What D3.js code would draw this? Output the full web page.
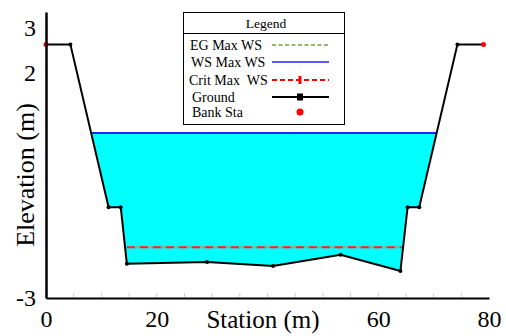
<!DOCTYPE html>
<html>
<head>
<meta charset="utf-8">
<script src="https://cdn.jsdelivr.net/npm/d3@7"></script>
<style>
  body { margin: 0; background: #fff; }
  svg text { font-family: "Times New Roman", "Liberation Serif", "DejaVu Serif", serif !important; }
</style>
</head>
<body>
<div id="chart"></div>
<script>
// ground profile
var stations   = [0, 4.4, 11.3, 13.5, 14.6, 29.1, 41.0, 53.2, 64.0, 65.3, 67.4, 74.3, 79.0];
var elevations = [2.64, 2.64, -0.98, -0.98, -2.24, -2.2, -2.29, -2.04, -2.4, -0.98, -0.98, 2.64, 2.64];
var bankSta = [0, 79.0];
var wsElev = 0.67;
var critElev = -1.87;
var critRange = [14.6, 64.2];
var xTicks = [0, 20, 60, 80];
var yTicks = [3, 2, -3];
var legendItems = ["EG Max WS", "WS Max WS", "Crit Max  WS", "Ground", "Bank Sta"];

var width = 506, height = 336;

var svg = d3.select("#chart").append("svg")
    .attr("width", width)
    .attr("height", height);

var x = d3.scaleLinear().domain([0, 80]).range([46, 489]);
var y = d3.scaleLinear().domain([-3, 3.36]).range([298, 12]);

var ground = stations.map(function(s, i) { return { s: s, e: elevations[i] }; });

// water polygon: clip ground below WS
function interpS(a, b, e) { return a.s + (b.s - a.s) * (e - a.e) / (b.e - a.e); }
var water = [];
for (var i = 0; i < ground.length - 1; i++) {
  var a = ground[i], b = ground[i + 1];
  if (a.e <= wsElev) water.push(a);
  if ((a.e - wsElev) * (b.e - wsElev) < 0) water.push({ s: interpS(a, b, wsElev), e: wsElev });
}
if (ground[ground.length - 1].e <= wsElev) water.push(ground[ground.length - 1]);

var line = d3.line().x(function(d) { return x(d.s); }).y(function(d) { return y(d.e); });

svg.append("path")
  .attr("d", line(water) + "Z")
  .attr("fill", "#00ffff");

// WS line
svg.append("line")
  .attr("x1", x(water[0].s)).attr("x2", x(water[water.length - 1].s))
  .attr("y1", y(wsElev)).attr("y2", y(wsElev))
  .attr("stroke", "#2020ff").attr("stroke-width", 2);

// crit line
svg.append("line")
  .attr("x1", x(critRange[0])).attr("x2", x(critRange[1]))
  .attr("y1", y(critElev)).attr("y2", y(critElev))
  .attr("stroke", "#88aaaa").attr("stroke-width", 2);
svg.append("line")
  .attr("x1", x(critRange[0])).attr("x2", x(critRange[1]))
  .attr("y1", y(critElev)).attr("y2", y(critElev))
  .attr("stroke", "#ff2020").attr("stroke-width", 2)
  .attr("stroke-dasharray", "8,5");

// ground
svg.append("path")
  .attr("d", line(ground))
  .attr("fill", "none")
  .attr("stroke", "#000").attr("stroke-width", 2);
svg.selectAll(".gpt")
  .data(ground.slice(1, -1)).enter()
  .append("circle")
  .attr("cx", function(d) { return x(d.s); })
  .attr("cy", function(d) { return y(d.e); })
  .attr("r", 2).attr("fill", "#000");

// bank stations
svg.selectAll(".bank")
  .data(bankSta).enter()
  .append("circle")
  .attr("cx", function(d) { return x(d); })
  .attr("cy", function(d) { return y(elevations[stations.indexOf(d)]); })
  .attr("r", 2.5).attr("fill", "#ff0000");

// axes
var xAxis = svg.append("g").attr("transform", "translate(0," + y(-3) + ")")
  .call(d3.axisBottom(x).tickValues(xTicks).tickSize(0).tickPadding(12));
xAxis.select(".domain").attr("stroke", "#000").attr("stroke-width", 2);
xAxis.selectAll("text").attr("font-size", 24).attr("fill", "#000");
// faint minor ticks
svg.selectAll(".xm").data(d3.range(5, 80, 5)).enter()
  .append("line")
  .attr("x1", function(d) { return x(d); }).attr("x2", function(d) { return x(d); })
  .attr("y1", y(-3) - 1).attr("y2", y(-3) - 5)
  .attr("stroke", "#ccc").attr("stroke-width", 1);

var yAxis = svg.append("g").attr("transform", "translate(" + x(0) + ",0)")
  .call(d3.axisLeft(y).tickValues(yTicks).tickSize(0).tickPadding(10)
    .tickFormat(function(d) { return String(d); }));
yAxis.select(".domain").attr("stroke", "#000").attr("stroke-width", 2.5);
yAxis.selectAll("text").attr("font-size", 24).attr("fill", "#000");

svg.append("text")
  .attr("x", 263).attr("y", 328)
  .attr("text-anchor", "middle")
  .attr("font-size", 25)
  .text("Station (m)");
svg.append("text")
  .attr("transform", "translate(34,175) rotate(-90)")
  .attr("text-anchor", "middle")
  .attr("font-size", 26)
  .text("Elevation (m)");

// legend
var lg = svg.append("g");
lg.append("rect")
  .attr("x", 183.5).attr("y", 12.5).attr("width", 161).attr("height", 112)
  .attr("fill", "#fff").attr("stroke", "#000").attr("stroke-width", 1);
lg.append("line").attr("x1", 183.5).attr("x2", 344.5).attr("y1", 33.5).attr("y2", 33.5)
  .attr("stroke", "#000");
lg.append("text").attr("x", 266).attr("y", 28).attr("text-anchor", "middle")
  .attr("font-size", 13.5).text("Legend");

var rowY = [45, 62, 80, 97, 112];
var textX = [190, 191, 189, 192, 192];
lg.selectAll(".lt").data(legendItems).enter()
  .append("text")
  .attr("x", function(d, i) { return textX[i]; })
  .attr("y", function(d, i) { return rowY[i] + 5; })
  .attr("font-size", 14)
  .style("white-space", "pre")
  .text(function(d) { return d; });

var lx1 = 272, lx2 = 329, lxm = 300;
lg.append("line").attr("x1", lx1).attr("x2", lx2).attr("y1", rowY[0]).attr("y2", rowY[0])
  .attr("stroke", "#70a040").attr("stroke-width", 1.5).attr("stroke-dasharray", "4,2.5");
lg.append("line").attr("x1", lx1).attr("x2", lx2).attr("y1", rowY[1]).attr("y2", rowY[1])
  .attr("stroke", "#2020ff").attr("stroke-width", 1.5);
lg.append("line").attr("x1", lx1).attr("x2", lx2).attr("y1", rowY[2]).attr("y2", rowY[2])
  .attr("stroke", "#ff0000").attr("stroke-width", 2).attr("stroke-dasharray", "5,3");
lg.append("rect").attr("x", lxm - 1.5).attr("y", rowY[2] - 4).attr("width", 3).attr("height", 8)
  .attr("fill", "#ff0000");
lg.append("line").attr("x1", lx1).attr("x2", lx2).attr("y1", rowY[3]).attr("y2", rowY[3])
  .attr("stroke", "#000").attr("stroke-width", 2);
lg.append("rect").attr("x", lxm - 3).attr("y", rowY[3] - 3.5).attr("width", 6).attr("height", 7)
  .attr("fill", "#000");
lg.append("circle").attr("cx", lxm).attr("cy", rowY[4]).attr("r", 3.5).attr("fill", "#ff0000");
</script>
</body>
</html>
